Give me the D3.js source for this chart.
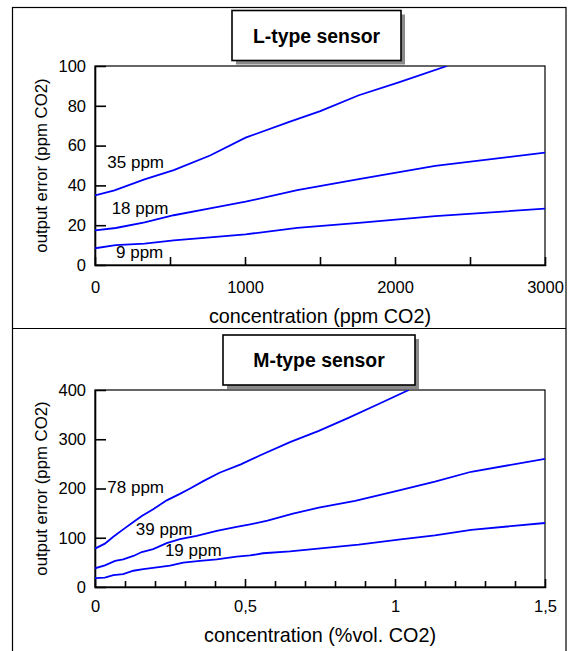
<!DOCTYPE html>
<html>
<head>
<meta charset="utf-8">
<script src="https://cdn.jsdelivr.net/npm/d3@7"></script>
<style>
    body { margin: 0; background: #fff; }
    svg { display: block; font-family: "Liberation Sans", Arial, sans-serif; }
    .curve { fill: none; stroke: #0000ff; stroke-width: 1.8; }
    .frame { fill: none; stroke: #000; stroke-width: 1.2; }
    .axis path, .axis line { stroke: #000; stroke-width: 1.6; }
    .axis text { font-size: 16.5px; fill: #000; }
</style>
</head>
<body>
<svg class="chart" width="568" height="651"></svg>
<script>

// L-type sensor (x: ppm CO2, y: output error ppm CO2)
const lTicksX = [0, 1000, 2000, 3000];
const lTicksY = [0, 20, 40, 60, 80, 100];

const l35 = [[0, 35], [130, 37.5], [330, 43], [525, 47.7], [767, 55], [1004, 64], [1300, 72], [1502, 77.3], [1759, 85.3], [2025, 91.8], [2347, 100]];
const l18 = [[0, 17.4], [138, 18.6], [331, 21.4], [525, 25], [767, 28.4], [1004, 31.8], [1348, 37.6], [1759, 43.1], [2268, 49.8], [3000, 56.5]];
const l9  = [[0, 8.4], [138, 10], [331, 10.7], [525, 12.4], [767, 13.9], [1004, 15.4], [1348, 18.7], [1759, 21.2], [2268, 24.6], [3000, 28.3]];

const lLabels = [
    { text: '35 ppm', x: 82,  y: 48.7 },
    { text: '18 ppm', x: 111, y: 25.6 },
    { text: '9 ppm',  x: 140, y: 3.5 }
];

// M-type sensor (x: %vol. CO2, y: output error ppm CO2)
const mTicksX = [0, 0.5, 1, 1.5];
const mTicksY = [0, 100, 200, 300, 400];

const m78 = [[0, 78], [0.033, 88], [0.061, 102], [0.094, 117], [0.128, 132], [0.156, 144], [0.194, 158], [0.239, 176], [0.283, 189], [0.317, 200], [0.361, 215], [0.415, 232], [0.486, 249], [0.553, 268], [0.65, 294], [0.746, 317], [0.843, 343], [0.94, 370], [1.046, 400]];
const m39 = [[0, 38], [0.033, 44], [0.067, 53], [0.094, 56], [0.128, 63], [0.156, 71], [0.194, 77], [0.239, 89], [0.283, 97], [0.339, 104], [0.406, 114], [0.472, 122], [0.517, 127], [0.575, 135], [0.66, 149], [0.746, 161], [0.867, 175], [1.0, 194], [1.133, 214], [1.254, 234], [1.5, 260]];
const m19 = [[0, 18], [0.033, 19], [0.061, 24], [0.094, 26], [0.128, 33], [0.161, 36.5], [0.206, 40], [0.25, 43.5], [0.294, 49.5], [0.35, 53], [0.406, 56], [0.472, 61.5], [0.517, 64], [0.56, 68.5], [0.65, 72.5], [0.879, 86], [1.012, 96], [1.133, 105], [1.254, 116], [1.5, 130]];

const mLabels = [
    { text: '78 ppm', x: 0.041, y: 191 },
    { text: '39 ppm', x: 0.136, y: 105.6 },
    { text: '19 ppm', x: 0.233, y: 63 }
];

const svg = d3.select('svg.chart');

// outer frame + divider
svg.append('rect')
    .attr('x', 12.5).attr('y', 7.5)
    .attr('width', 553.5).attr('height', 700)
    .attr('fill', 'none').attr('stroke', '#000').attr('stroke-width', 1.2);

svg.append('line')
    .attr('x1', 12.5).attr('x2', 566)
    .attr('y1', 328.5).attr('y2', 328.5)
    .attr('stroke', '#000').attr('stroke-width', 1.2);

function drawPanel(opt) {

    const x = d3.scaleLinear().domain(opt.xDomain).range([95, 545]);
    const y = d3.scaleLinear().domain(opt.yDomain).range([opt.bottom, opt.top]);

    const g = svg.append('g');

    // title box with shadow
    const tb = opt.titleBox;
    g.append('rect')
        .attr('x', tb.x + 4).attr('y', tb.y + 4)
        .attr('width', tb.w).attr('height', tb.h)
        .attr('fill', '#8a8a8a');
    g.append('rect')
        .attr('x', tb.x).attr('y', tb.y)
        .attr('width', tb.w).attr('height', tb.h)
        .attr('fill', '#fff').attr('stroke', '#000').attr('stroke-width', 1.6);
    g.append('text')
        .attr('x', tb.x + tb.w / 2).attr('y', tb.y + tb.h / 2 + 7)
        .attr('text-anchor', 'middle')
        .attr('font-weight', 'bold')
        .attr('font-size', '19.4px')
        .text(opt.title);

    // frame (top + right)
    g.append('rect')
        .attr('class', 'frame')
        .attr('x', x.range()[0]).attr('y', opt.top)
        .attr('width', x.range()[1] - x.range()[0])
        .attr('height', opt.bottom - opt.top);

    // inner ticks
    g.append('g')
        .attr('class', 'axis')
        .attr('transform', `translate(0,${opt.bottom})`)
        .call(d3.axisBottom(x).tickValues(opt.minorX).tickSize(-opt.minorLen).tickFormat(''))
        .call(a => a.select('.domain').remove());

    g.append('g')
        .attr('class', 'axis')
        .attr('transform', `translate(0,${opt.bottom})`)
        .call(d3.axisBottom(x).tickValues(opt.ticksX).tickSize(-8).tickPadding(opt.padX).tickFormat(opt.fmtX))
        .call(a => a.selectAll('.tick line').filter(d => d == opt.xDomain[0] || d == opt.xDomain[1]).remove());

    g.append('g')
        .attr('class', 'axis')
        .attr('transform', `translate(95,0)`)
        .call(d3.axisLeft(y).tickValues(opt.ticksY).tickSize(-11).tickPadding(9))
        .call(a => a.selectAll('.tick line').filter(d => d == opt.yDomain[0] || d == opt.yDomain[1]).remove());

    svg.selectAll('.axis .domain').attr('stroke-width', 1.8);

    // curves
    const clipId = 'clip-' + opt.id;
    g.append('clipPath').attr('id', clipId)
        .append('rect')
        .attr('x', 95).attr('y', opt.top)
        .attr('width', 450).attr('height', opt.bottom - opt.top);

    const line = d3.line().x(d => x(d[0])).y(d => y(d[1]));

    g.append('g')
        .attr('clip-path', `url(#${clipId})`)
        .selectAll('path')
        .data(opt.series)
        .join('path')
        .attr('class', 'curve')
        .attr('d', line);

    // curve labels
    g.selectAll('text.lbl')
        .data(opt.labels)
        .join('text')
        .attr('class', 'lbl')
        .attr('x', d => x(d.x))
        .attr('y', d => y(d.y))
        .attr('font-size', '17px')
        .text(d => d.text);

    // axis titles
    g.append('text')
        .attr('x', 320).attr('y', opt.bottom + opt.titleGap)
        .attr('text-anchor', 'middle')
        .attr('font-size', '19.8px')
        .text(opt.xTitle);

    g.append('text')
        .attr('transform', `translate(47,${(opt.top + opt.bottom) / 2}) rotate(-90)`)
        .attr('text-anchor', 'middle')
        .attr('font-size', '16.8px')
        .text('output error (ppm CO2)');

}

drawPanel({
    id: 'l',
    title: 'L-type sensor',
    titleBox: { x: 232, y: 10.5, w: 169, h: 50 },
    xDomain: [0, 3000],
    yDomain: [0, 100],
    top: 66,
    bottom: 265,
    ticksX: lTicksX,
    ticksY: lTicksY,
    minorX: [500, 1500, 2500],
    minorLen: 8,
    padX: 16,
    titleGap: 58,
    fmtX: d3.format('d'),
    series: [l35, l18, l9],
    labels: lLabels,
    xTitle: 'concentration (ppm CO2)'
});

drawPanel({
    id: 'm',
    title: 'M-type sensor',
    titleBox: { x: 223, y: 335, w: 192, h: 50 },
    xDomain: [0, 1.5],
    yDomain: [0, 400],
    top: 390,
    bottom: 587,
    ticksX: mTicksX,
    ticksY: mTicksY,
    minorX: d3.range(1, 15).filter(i => i % 5 != 0).map(i => i / 10),
    minorLen: 6,
    padX: 13,
    titleGap: 55,
    fmtX: d => String(d).replace('.', ','),
    series: [m78, m39, m19],
    labels: mLabels,
    xTitle: 'concentration (%vol. CO2)'
});

</script>
</body>
</html>
